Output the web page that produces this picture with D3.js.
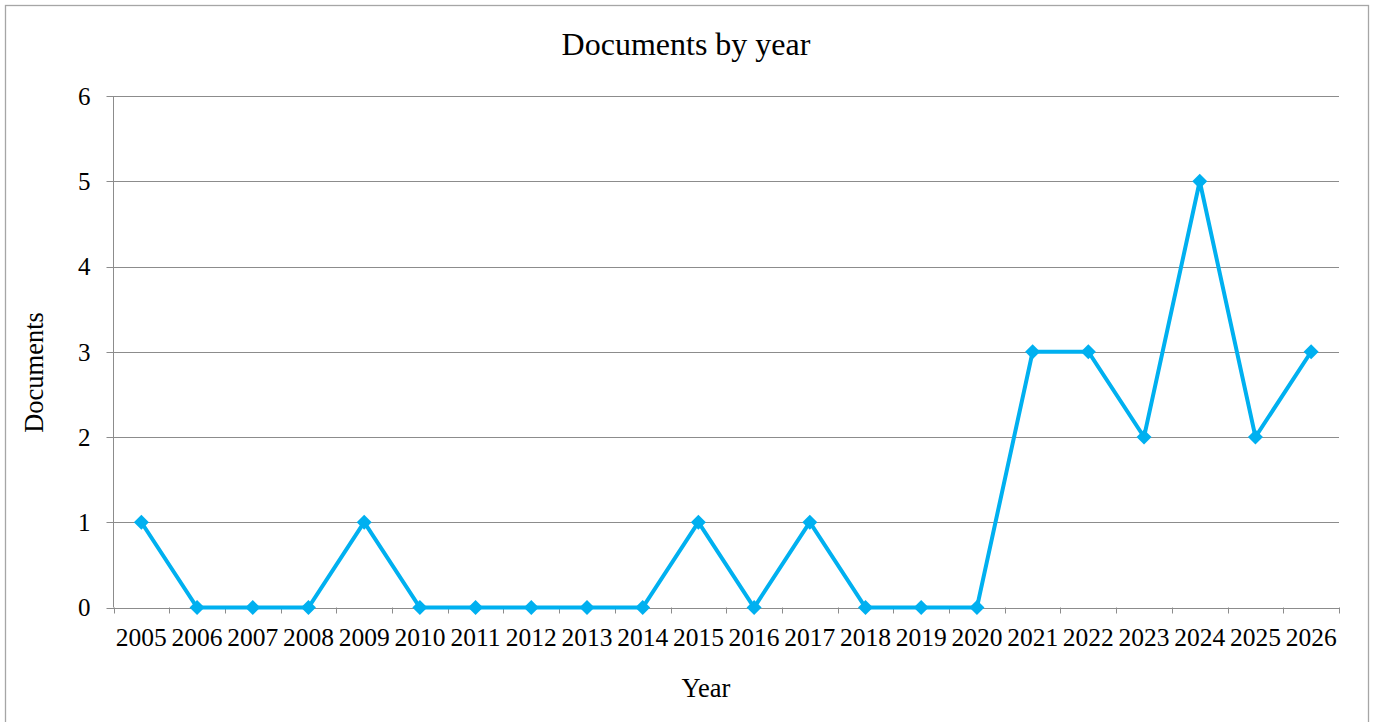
<!DOCTYPE html>
<html><head><meta charset="utf-8">
<script src="https://cdn.jsdelivr.net/npm/d3@7"></script>
<style>body{margin:0;background:#fff}svg{display:block}text{font-family:"Liberation Serif","Times New Roman",serif;fill:#000}</style>
</head><body><svg id="c" width="1373" height="722"></svg>
<script>
const years = ["2005","2006","2007","2008","2009","2010","2011","2012","2013","2014","2015","2016","2017","2018","2019","2020","2021","2022","2023","2024","2025","2026"];
const documents = [1,0,0,0,1,0,0,0,0,0,1,0,1,0,0,0,3,3,2,5,2,3];
const yTicks = [0,1,2,3,4,5,6];

const svg = d3.select("#c");
const L = 113.5, R = 1339, T = 96, B = 607.5;
svg.append("rect").attr("x",5.5).attr("y",5.5).attr("width",1363).attr("height",730)
  .attr("fill","none").attr("stroke","#a6a6a6").attr("stroke-width",1.3);

const x = d3.scaleBand().domain(years).range([L,R]);
const y = d3.scaleLinear().domain([0,6]).range([B,T]);

// gridlines
svg.append("g").selectAll("line").data(yTicks).join("line")
  .attr("x1",L-7).attr("x2",R).attr("y1",d=>Math.round(y(d))+0.5).attr("y2",d=>Math.round(y(d))+0.5)
  .attr("stroke","#8c8c8c").attr("stroke-width",1);
// y axis line
svg.append("line").attr("x1",L).attr("x2",L).attr("y1",T).attr("y2",B).attr("stroke","#8c8c8c");
// x ticks
const xt = years.map(d=>x(d)).concat([R]);
svg.append("g").selectAll("line").data(xt).join("line")
  .attr("x1",d=>Math.round(d)+0.5).attr("x2",d=>Math.round(d)+0.5).attr("y1",B).attr("y2",B+6)
  .attr("stroke","#8c8c8c");
// y labels
svg.append("g").selectAll("text").data(yTicks).join("text")
  .attr("x",L-23).attr("y",d=>y(d)).attr("dy","0.35em").attr("text-anchor","end")
  .attr("font-size",25).text(d=>d);
// x labels
svg.append("g").selectAll("text").data(years).join("text")
  .attr("x",d=>x(d)+x.bandwidth()/2).attr("y",646).attr("text-anchor","middle")
  .attr("font-size",25.5).text(d=>d);

// line
const cx = d=>x(d)+x.bandwidth()/2;
svg.append("path").datum(documents.map((v,i)=>[cx(years[i]),y(v)]))
  .attr("d",d3.line()).attr("fill","none").attr("stroke","#00b0f0").attr("stroke-width",4)
  .attr("stroke-linejoin","miter");
svg.append("g").selectAll("path").data(documents).join("path")
  .attr("transform",(d,i)=>`translate(${cx(years[i])},${y(d)})`)
  .attr("d","M0,-7.5L7.5,0L0,7.5L-7.5,0Z").attr("fill","#00b0f0");

// titles
svg.append("text").attr("x",686).attr("y",55).attr("text-anchor","middle").attr("font-size",32).text("Documents by year");
svg.append("text").attr("x",706).attr("y",697).attr("text-anchor","middle").attr("font-size",26.5).text("Year");
svg.append("text").attr("transform","translate(43,372.5) rotate(-90)").attr("text-anchor","middle").attr("font-size",26.5).text("Documents");
</script></body></html>
